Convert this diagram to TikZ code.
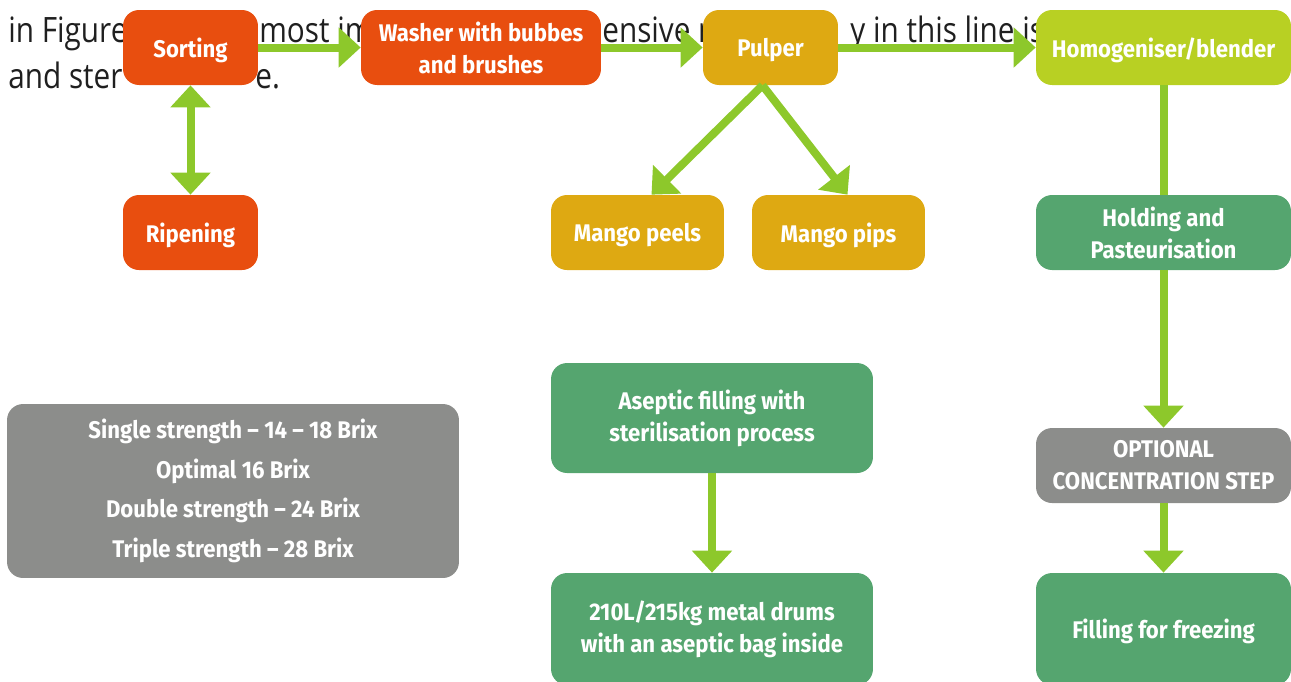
\documentclass[tikz,border=0pt]{standalone}
\usepackage{fontspec}
\usetikzlibrary{arrows.meta}
\newfontfamily\boxfont[FakeStretch=0.92]{Fira Sans}
\newfontfamily\pagefont[FakeStretch=0.85]{Open Sans}
\definecolor{mangoorange}{HTML}{E84E0F}
\definecolor{mangogold}{HTML}{DEA912}
\definecolor{blendgreen}{HTML}{B8D023}
\definecolor{stepgreen}{HTML}{55A56F}
\definecolor{stepgray}{HTML}{8C8D8B}
\definecolor{flowgreen}{HTML}{8DC82B}
\tikzset{
  stepbox/.style={rounded corners=0.32cm,inner sep=0pt,text=white,align=center,
    font=\boxfont\bfseries\fontsize{13.7}{18.2}\selectfont},
  onelabel/.style={stepbox,text depth=0pt},
  smallbox/.style={onelabel,minimum width=2.7cm,minimum height=1.5cm},
  pagetext/.style={anchor=base west,inner sep=0pt,text=black!88,
    font=\pagefont\fontsize{19.9}{24}\selectfont},
  flowline/.style={draw=flowgreen,line width=0.16cm},
  flow/.style={flowline,-{Triangle[width=0.78cm,length=0.44cm]}},
  twoflow/.style={flowline,{Triangle[width=0.78cm,length=0.44cm]}-{Triangle[width=0.78cm,length=0.44cm]}},
}
\begin{document}
\begin{tikzpicture}[x=0.02cm,y=-0.02cm]
\useasboundingbox (0,0) rectangle (1291,681);
% page text behind the chart
\node[pagetext] (txtA) at (8,42) {in Figure};
\node[pagetext] (txtB) at (259,42) {most im};
\node[pagetext] (txtC) at (602,42) {ensive m};
\node[pagetext] (txtD) at (850,42) {y in this line is};
\node[pagetext] (txtE) at (8,88) {and ster};
\node[pagetext] (txtF) at (255,88) {e.};
% top row
\node[smallbox,fill=mangoorange] (sorting) at (190.5,47.5) {Sorting};
\node[stepbox,fill=mangoorange,minimum width=4.8cm,minimum height=1.5cm] (washer) at (481,47.5) {Washer with bubbes\\and brushes};
\node[smallbox,fill=mangogold] (pulper) at (770.5,47.5) {Pulper};
\node[onelabel,fill=blendgreen,minimum width=5.1cm,minimum height=1.5cm] (homog) at (1163.5,47.5) {Homogeniser/blender};
% second row
\node[smallbox,fill=mangoorange] (ripening) at (190.5,232.5) {Ripening};
\node[onelabel,fill=mangogold,minimum width=3.46cm,minimum height=1.5cm] (peels) at (637.5,232.5) {Mango peels};
\node[onelabel,fill=mangogold,minimum width=3.46cm,minimum height=1.5cm] (pips) at (838.5,232.5) {Mango pips};
\node[stepbox,fill=stepgreen,minimum width=5.1cm,minimum height=1.5cm] (holding) at (1163.5,232.5) {Holding and\\Pasteurisation};
% lower boxes
\node[stepbox,fill=stepgreen,minimum width=6.44cm,minimum height=2.2cm] (aseptic) at (712,418) {Aseptic filling with\\sterilisation process};
\node[stepbox,fill=stepgreen,minimum width=6.44cm,minimum height=2.24cm] (drums) at (712,629) {210L/215kg metal drums\\with an aseptic bag inside};
\node[stepbox,fill=stepgray,minimum width=5.1cm,minimum height=1.5cm] (optional) at (1163.5,465.5) {OPTIONAL\\CONCENTRATION STEP};
\node[onelabel,fill=stepgreen,minimum width=5.1cm,minimum height=2.24cm] (freezing) at (1163.5,629) {Filling for freezing};
% brix legend
\node[stepbox,fill=stepgray,minimum width=9.04cm,minimum height=3.48cm,
  font=\boxfont\bfseries\fontsize{13.7}{22.5}\selectfont] (brix) at (233,491)
  {Single strength – 14 – 18 Brix\\Optimal 16 Brix\\Double strength – 24 Brix\\Triple strength – 28 Brix};
% connectors
\draw[flow] (sorting) -- (washer);
\draw[flow] (washer) -- (pulper);
\draw[flow] (pulper) -- (homog);
\draw[twoflow] (sorting) -- (ripening);
\draw[flow] ([xshift=-0.16cm]pulper.south) -- ([xshift=0.28cm]peels.north);
\draw[flow] ([xshift=-0.16cm]pulper.south) -- ([xshift=0.18cm]pips.north);
\draw[flowline] (homog) -- (holding);
\draw[flow] (holding) -- (optional);
\draw[flow] (optional) -- (freezing);
\draw[flow] (aseptic) -- (drums);
\end{tikzpicture}
\end{document}
